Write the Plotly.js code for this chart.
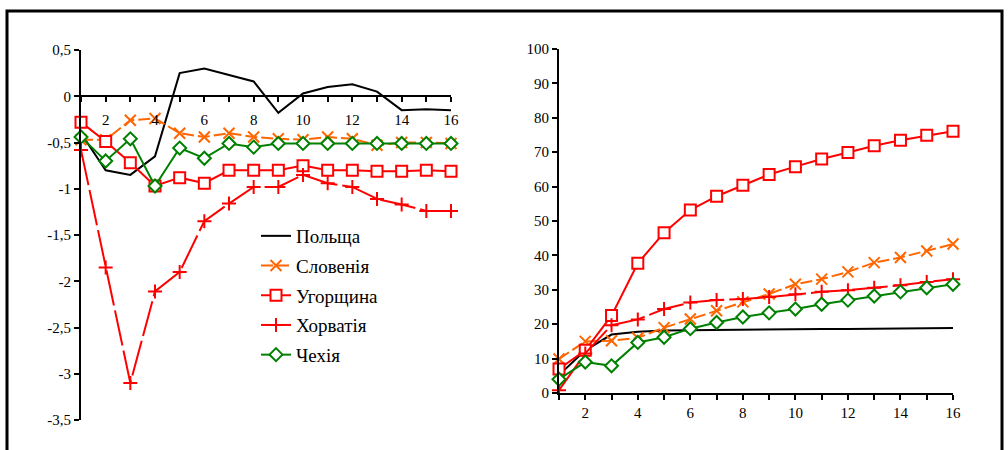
<!DOCTYPE html>
<html>
<head>
<meta charset="utf-8">
<script src="https://cdn.plot.ly/plotly-3.0.1.min.js"></script>
<style>
html,body{margin:0;padding:0;background:#fff;}
#chart{width:1008px;height:450px;}
</style>
</head>
<body>
<div id="chart"></div>
<script>
// ---- data ----
const periods = [1,2,3,4,5,6,7,8,9,10,11,12,13,14,15,16];
const seriesNames = ['Польща','Словенія','Угорщина','Хорватія','Чехія'];

// left panel
const polandLeft   = [-0.40,-0.80,-0.85,-0.65,0.25,0.30,0.23,0.16,-0.18,0.03,0.10,0.13,0.05,-0.15,-0.14,-0.15];
const sloveniaLeft = [-0.47,-0.47,-0.26,-0.24,-0.40,-0.44,-0.40,-0.44,-0.46,-0.47,-0.44,-0.46,-0.53,-0.50,-0.50,-0.51];
const hungaryLeft  = [-0.28,-0.49,-0.72,-0.97,-0.88,-0.94,-0.80,-0.80,-0.80,-0.75,-0.80,-0.80,-0.81,-0.81,-0.80,-0.81];
const croatiaLeft  = [-0.58,-1.85,-3.10,-2.11,-1.90,-1.35,-1.16,-0.98,-0.98,-0.85,-0.94,-0.98,-1.11,-1.17,-1.24,-1.24];
const czechLeft    = [-0.44,-0.70,-0.46,-0.97,-0.56,-0.67,-0.51,-0.55,-0.51,-0.51,-0.51,-0.51,-0.51,-0.51,-0.51,-0.51];

// right panel
const polandRight   = [5.2,12.4,17.0,17.8,18.2,18.3,18.4,18.5,18.5,18.5,18.6,18.6,18.7,18.7,18.8,18.9];
const sloveniaRight = [9.9,15.0,15.2,16.0,19.0,21.5,23.9,26.5,28.8,31.6,33.1,35.2,37.9,39.4,41.3,43.3];
const hungaryRight  = [7.0,12.4,22.5,37.7,46.6,53.2,57.2,60.4,63.5,65.8,68.0,69.9,71.9,73.5,74.9,76.1];
const croatiaRight  = [0.8,11.5,19.7,21.4,24.4,26.3,27.0,27.3,27.9,28.7,29.4,29.9,30.6,31.3,32.3,33.1];
const czechRight    = [4.0,9.0,7.9,14.7,16.2,18.7,20.5,22.1,23.3,24.4,25.8,27.0,28.2,29.4,30.6,31.6];

// tick labels
const leftYTickVals = [0.5,0,-0.5,-1,-1.5,-2,-2.5,-3,-3.5];
const leftYTickText = ['0,5','0','-0,5','-1','-1,5','-2','-2,5','-3','-3,5'];
const rightYTickVals = [0,10,20,30,40,50,60,70,80,90,100];
const rightYTickText = ['0','10','20','30','40','50','60','70','80','90','100'];

// ---- styles ----
const FONT = 'Liberation Serif, Times New Roman, serif';
const styles = [
  {line:{color:'#000000', width:2}, mode:'lines'},
  {line:{color:'#FF6600', width:2, dash:'12px,4px'}, mode:'lines+markers',
   marker:{symbol:'x-thin', size:11, color:'#FF6600', line:{color:'#FF6600', width:2}}},
  {line:{color:'#FF0000', width:2}, mode:'lines+markers',
   marker:{symbol:'square', size:11, color:'#FFFFFF', line:{color:'#FF0000', width:2}}},
  {line:{color:'#FF0000', width:2, dash:'36px,5px'}, mode:'lines+markers',
   marker:{symbol:'cross-thin', size:10, color:'#FF0000', line:{color:'#FF0000', width:2}}},
  {line:{color:'#008000', width:2}, mode:'lines+markers',
   marker:{symbol:'diamond', size:10, color:'#FFFFFF', line:{color:'#008000', width:2}}}
];

const leftData = [polandLeft, sloveniaLeft, hungaryLeft, croatiaLeft, czechLeft];
const rightData = [polandRight, sloveniaRight, hungaryRight, croatiaRight, czechRight];

const traces = [];
leftData.forEach((ys,i)=>{
  traces.push(Object.assign({
    type:'scatter', x:periods, y:ys, name:seriesNames[i],
    xaxis:'x', yaxis:'y', cliponaxis:false,
    legendgroup:'g'+i, showlegend:true
  }, styles[i]));
});
rightData.forEach((ys,i)=>{
  traces.push(Object.assign({
    type:'scatter', x:periods, y:ys, name:seriesNames[i],
    xaxis:'x2', yaxis:'y2', cliponaxis:false,
    legendgroup:'g'+i, showlegend:false
  }, styles[i]));
});

const W = 1008, H = 450;
const L = {x0:81, x1:451, yTop:50, yBot:420};
const R = {x0:559, x1:953, yTop:49, yBot:393};
const leftYRange = [-3.5, 0.5];
const zeroFrac = (0 - leftYRange[0])/(leftYRange[1]-leftYRange[0]);
const leftYDomain = [(H-L.yBot)/H, (H-L.yTop)/H];
const xAxisPos = leftYDomain[0] + zeroFrac*(leftYDomain[1]-leftYDomain[0]);

const tickFont = {family:FONT, size:15, color:'#000'};
const xCommon = {
  range:[1,16], dtick:2, tick0:0, ticks:'outside', ticklen:5, tickwidth:2, tickcolor:'#000',
  showline:true, linecolor:'#000', linewidth:2, showgrid:false, zeroline:false,
  tickfont:tickFont, fixedrange:true,
  minor:{dtick:1, tick0:0, ticks:'outside', ticklen:5, tickwidth:2, tickcolor:'#000', showgrid:false}
};

const layout = {
  width:W, height:H,
  margin:{l:0, r:0, t:0, b:0},
  paper_bgcolor:'#fff', plot_bgcolor:'rgba(0,0,0,0)',
  font:{family:FONT, color:'#000'},
  showlegend:true,
  legend:{
    x:256/W, y:(H-217)/H, xanchor:'left', yanchor:'top',
    font:{family:FONT, size:19, color:'#000'},
    bgcolor:'rgba(0,0,0,0)', borderwidth:0,
    traceorder:'grouped', tracegroupgap:2
  },
  xaxis: Object.assign({}, xCommon, {
    domain:[L.x0/W, L.x1/W], anchor:'free', position:xAxisPos, ticklabelstandoff:5
  }),
  yaxis:{
    domain:leftYDomain, range:leftYRange, anchor:'x',
    tickvals:leftYTickVals, ticktext:leftYTickText,
    ticks:'outside', ticklen:5, tickwidth:2, tickcolor:'#000',
    showline:true, linecolor:'#000', linewidth:2, showgrid:false, zeroline:false,
    tickfont:tickFont, fixedrange:true
  },
  xaxis2: Object.assign({}, xCommon, {
    domain:[R.x0/W, R.x1/W], anchor:'y2'
  }),
  yaxis2:{
    domain:[(H-R.yBot)/H, (H-R.yTop)/H], range:[0,100], anchor:'x2',
    tickvals:rightYTickVals, ticktext:rightYTickText,
    ticks:'outside', ticklen:5, tickwidth:2, tickcolor:'#000',
    showline:true, linecolor:'#000', linewidth:2, showgrid:false, zeroline:false,
    tickfont:tickFont, fixedrange:true
  },
  shapes:[{
    type:'rect', xref:'paper', yref:'paper',
    x0:7/W, x1:1002/W, y0:-0.05, y1:(H-11)/H,
    line:{color:'#000', width:3}, fillcolor:'rgba(0,0,0,0)', layer:'below'
  }]
};

Plotly.newPlot('chart', traces, layout, {displayModeBar:false, staticPlot:true});
</script>
</body>
</html>
